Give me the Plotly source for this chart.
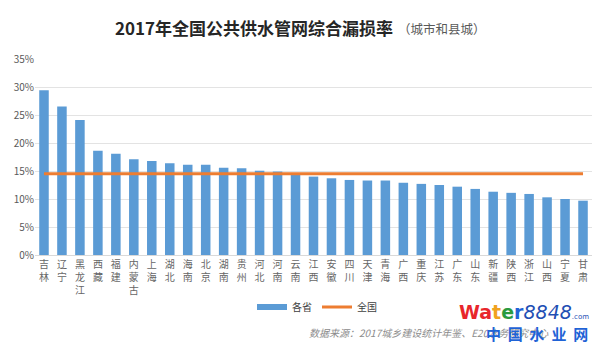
import plotly.graph_objects as go

provinces = ["吉林", "辽宁", "黑龙江", "西藏", "福建", "内蒙古", "上海", "湖北", "海南", "北京",
             "湖南", "贵州", "河北", "河南", "云南", "江西", "安徽", "四川", "天津", "青海",
             "广西", "重庆", "江苏", "广东", "山东", "新疆", "陕西", "浙江", "山西", "宁夏", "甘肃"]
province_rates = [29.4, 26.5, 24.1, 18.6, 18.1, 17.1, 16.8, 16.4, 16.1, 16.1,
                  15.6, 15.5, 15.05, 14.9, 14.4, 14.0, 13.7, 13.4, 13.3, 13.3,
                  12.9, 12.7, 12.5, 12.2, 11.8, 11.3, 11.1, 10.9, 10.3, 10.0, 9.7]
national_rate = 14.5
y_ticks = [0, 5, 10, 15, 20, 25, 30, 35]
y_tick_labels = ["0%", "5%", "10%", "15%", "20%", "25%", "30%", "35%"]

FONT = "Noto Sans CJK SC"
TICK_FONT = "Liberation Sans, Noto Sans CJK SC"
tick_text = ["<br>".join(list(p)) for p in provinces]

BAR_COLOR = "#5B9BD5"
LINE_COLOR = "#ED7D31"

# plot area in pixels: x 35..592, y 59..255
PL, PR, PT, PB = 35, 592, 59, 255


def px(x):
    return (x - PL) / (PR - PL)


def py(y):
    return (PB - y) / (PB - PT)


fig = go.Figure()
fig.add_trace(go.Bar(
    x=provinces, y=province_rates, name="各省", showlegend=False,
    marker=dict(color=BAR_COLOR, line=dict(width=0)),
))
# legend entry drawn as a wide band like the reference
fig.add_trace(go.Scatter(
    x=[None], y=[None], name="各省", mode="lines",
    line=dict(color=BAR_COLOR, width=6), showlegend=True,
))
fig.add_trace(go.Scatter(
    x=provinces, y=[national_rate] * len(provinces), name="全国",
    mode="lines", line=dict(color=LINE_COLOR, width=3),
))

fig.update_layout(
    width=600, height=348,
    margin=dict(l=PL, r=600 - PR, t=PT, b=348 - PB),
    paper_bgcolor="white", plot_bgcolor="white",
    font=dict(family=FONT, size=10, color="#595959"),
    bargap=0.47,
    showlegend=True,
    legend=dict(orientation="h", x=px(317), xanchor="center", y=py(307), yanchor="middle",
                font=dict(size=10, color="#404040"), itemwidth=30,
                tracegroupgap=0, bgcolor="rgba(0,0,0,0)"),
    xaxis=dict(tickmode="array", tickvals=provinces, ticktext=tick_text,
               tickangle=0, showgrid=False, showline=True, linecolor="#D9D9D9",
               ticks="", tickfont=dict(family=TICK_FONT, size=10, color="#666666")),
    yaxis=dict(range=[0, 35], tickmode="array", tickvals=y_ticks, ticktext=y_tick_labels,
               showgrid=True, gridcolor="#E3E3E3", gridwidth=1, zeroline=False,
               showline=False, ticks="", tickfont=dict(size=10, color="#595959")),
)

fig.add_annotation(text="<b>2017年全国公共供水管网综合漏损率</b>", xref="paper", yref="paper",
                   x=px(254.5), y=py(27), xanchor="center", yanchor="middle",
                   showarrow=False, font=dict(family=FONT, size=17, color="#262626"))
fig.add_annotation(text="（城市和县城）", xref="paper", yref="paper",
                   x=px(442), y=py(28), xanchor="center", yanchor="middle",
                   showarrow=False, font=dict(family=FONT, size=12.5, color="#595959"))
fig.add_annotation(text="<i>数据来源：2017城乡建设统计年鉴、E20水务研究中心</i>", xref="paper", yref="paper",
                   x=px(307), y=py(332), xanchor="left", yanchor="middle",
                   showarrow=False, font=dict(family=FONT, size=10, color="#8C8C8C"))
fig.add_annotation(text="<b><span style='color:#E8262B'>Wa</span><span style='color:#F0A21E'>t</span><span style='color:#2A9A3E'>e</span><span style='color:#1F63D6'>r</span></b><i><span style='color:#1F4FB4'>8848</span></i><span style='color:#1F4FB4;font-size:7px'>.com</span>",
                   xref="paper", yref="paper", x=px(591), y=py(312),
                   xanchor="right", yanchor="middle", showarrow=False,
                   font=dict(family="DejaVu Sans", size=19))
fig.add_annotation(text="<b>中  国  水  业  网</b>", xref="paper", yref="paper",
                   x=px(590), y=py(333), xanchor="right", yanchor="middle",
                   showarrow=False, font=dict(family=FONT, size=15, color="#1F63D6"))

fig.write_html("out.html")
